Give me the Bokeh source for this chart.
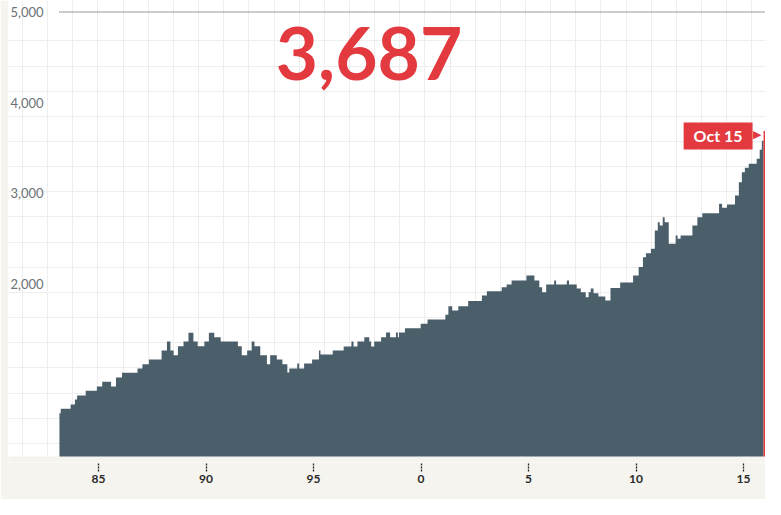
from bokeh.plotting import figure
from bokeh.models import Range1d, Grid, FixedTicker, Label
from bokeh.core.properties import value
from bokeh.embed import file_html
from bokeh.resources import INLINE

# ---- data ----
starts = [1983.18, 1983.24, 1983.70, 1983.90, 1984.00, 1984.40, 1984.92, 1985.17, 1985.58, 1985.81,
          1986.09, 1986.81, 1987.04, 1987.34, 1987.93, 1988.18, 1988.34, 1988.49, 1988.69, 1988.95,
          1989.18, 1989.41, 1989.61, 1989.92, 1990.13, 1990.38, 1990.68, 1991.48, 1991.66, 1991.91,
          1992.12, 1992.25, 1992.52, 1992.83, 1992.98, 1993.29, 1993.55, 1993.78, 1993.87, 1994.24,
          1994.33, 1994.56, 1994.93, 1995.25, 1995.32, 1995.89, 1996.40, 1996.76, 1996.86, 1997.04,
          1997.36, 1997.59, 1997.68, 1997.82, 1998.14, 1998.37, 1998.56, 1998.83, 1998.92, 1998.97,
          1999.25, 1999.98, 2000.30, 2001.13, 2001.27, 2001.45, 2001.73, 2002.19, 2002.83, 2003.06,
          2003.75, 2003.98, 2004.21, 2004.90, 2005.27, 2005.50, 2005.63, 2005.82, 2006.19, 2006.28,
          2006.78, 2006.88, 2007.24, 2007.43, 2007.66, 2007.79, 2007.89, 2008.02, 2008.25, 2008.57,
          2008.81, 2009.26, 2009.86, 2010.12, 2010.32, 2010.46, 2010.69, 2010.87, 2011.01, 2011.10,
          2011.24, 2011.33, 2011.52, 2011.84, 2011.93, 2012.07, 2012.62, 2012.85, 2013.08, 2013.86,
          2014.00, 2014.23, 2014.60, 2014.78, 2014.92, 2015.06, 2015.24, 2015.61, 2015.75, 2015.85,
          2015.93]
values = [572, 620, 668, 723, 767, 819, 866, 918, 866, 966,
          1018, 1065, 1113, 1164, 1264, 1363, 1264, 1212, 1311, 1363,
          1459, 1363, 1311, 1363, 1459, 1411, 1363, 1311, 1212, 1264,
          1363, 1311, 1212, 1113, 1212, 1164, 1113, 1021, 1065, 1120,
          1065, 1120, 1164, 1264, 1220, 1264, 1308, 1363, 1308, 1363,
          1411, 1363, 1308, 1363, 1411, 1462, 1411, 1462, 1411, 1462,
          1510, 1558, 1606, 1658, 1753, 1705, 1753, 1810, 1871, 1918,
          1962, 1992, 2036, 2092, 2036, 1962, 1907, 1992, 2036, 1992,
          2036, 1992, 1948, 1907, 1852, 1907, 1948, 1896, 1860, 1816,
          1954, 2014, 2092, 2185, 2294, 2338, 2386, 2588, 2680, 2643,
          2735, 2680, 2442, 2533, 2497, 2533, 2643, 2735, 2779, 2883,
          2839, 2875, 2975, 3121, 3232, 3280, 3325, 3380, 3480, 3580,
          3687]
last_end = 2016.0
last_label = "Oct 15"

ytick_values = [2000, 3000, 4000, 5000]
ytick_labels = ["2,000", "3,000", "4,000", "5,000"]
xtick_years = [1985, 1990, 1995, 2000, 2005, 2010, 2015]
xtick_labels = ["85", "90", "95", "0", "5", "10", "15"]

# ---- styles ----
SLATE = "#4b5f6b"
RED = "#e23a3f"
BEIGE = "#f5f4ef"
GRID = "#eeeeee"
FONT = "Lato"

W, H = 765, 499
LEFT, BOTTOM = 8, 37
FRAME_H = H - BOTTOM          # frame runs 6px below the chart floor
FLOOR = FRAME_H - 6           # pixel row where the white panel ends
Y0, Y1 = 27.6, 5127           # visible value range of the frame
FLOOR_VALUE = Y0 + (Y1 - Y0) * 6 / FRAME_H   # value shown at the chart floor

p = figure(width=W, height=H, output_backend="svg", toolbar_location=None,
           x_range=Range1d(1980.81, 2016.02), y_range=Range1d(Y0, Y1),
           y_axis_location=None, min_border_left=LEFT, min_border_right=0,
           min_border_top=0, min_border_bottom=BOTTOM)
p.background_fill_color = "white"
p.border_fill_color = BEIGE
p.outline_line_color = None
p.grid.visible = False

# pixel-space ranges for decoration
p.extra_x_ranges = {"px": Range1d(LEFT, W)}
p.extra_y_ranges = {"px": Range1d(FRAME_H, 0)}

gx = [22 + 25.15 * k for k in range(31)]
gy = [40.4 + 25.15 * k for k in range(17)]
p.add_layout(Grid(dimension=0, ticker=FixedTicker(ticks=gx), x_range_name="px",
                  grid_line_color=GRID, grid_line_width=1))
p.add_layout(Grid(dimension=1, ticker=FixedTicker(ticks=gy), y_range_name="px",
                  grid_line_color=GRID, grid_line_width=1))

# beige strip under the chart floor
p.quad(left=0, right=W + 10, bottom=FRAME_H + 10, top=FLOOR,
       x_range_name="px", y_range_name="px", fill_color=BEIGE, line_color=None)

# bars: one seamless stepped area + the latest (red) bar, standing on the floor
p.varea_step(x=starts, y1=FLOOR_VALUE, y2=values[:-1] + [values[-2]],
             step_mode="after", fill_color=SLATE)
p.quad(left=starts[-1], right=last_end, top=values[-1], bottom=FLOOR_VALUE,
       fill_color=RED, line_color=None)

# top dotted reference line
p.segment(x0=starts[0], x1=2017, y0=ytick_values[-1], y1=ytick_values[-1],
          line_color="#333333", line_width=1, line_dash="1 1")

# y tick labels inside plot
p.text(x=10, y=ytick_values, text=ytick_labels, x_range_name="px",
       text_font=value(FONT), text_font_size="13px", text_color="#6b7276",
       text_align="left", text_baseline="middle")

# x axis with dotted ticks
ax = p.xaxis[0]
ax.ticker = FixedTicker(ticks=xtick_years)
ax.major_label_overrides = {y: l for y, l in zip(xtick_years, xtick_labels)}
ax.axis_line_color = None
ax.minor_tick_line_color = None
ax.major_tick_line_color = "#222222"
ax.major_tick_line_width = 1.3
ax.major_tick_line_dash = "2 1"
ax.major_tick_in = 0
ax.major_tick_out = 9
ax.major_label_standoff = 3
ax.major_label_text_font = FONT
ax.major_label_text_font_style = "bold"
ax.major_label_text_font_size = "12px"
ax.major_label_text_color = "#2a2a2a"

# big headline number = last value
p.add_layout(Label(x=368.5, y=53, x_range_name="px", y_range_name="px",
                   text=f"{values[-1]:,}", text_font=FONT, text_font_style="bold",
                   text_font_size="73px", text_color=RED,
                   text_align="center", text_baseline="middle"))

# date tag by last bar
p.add_layout(Label(x=starts[-1], y=values[-1], x_offset=-11, y_offset=-5,
                   text=last_label, text_font=FONT, text_font_style="bold",
                   text_font_size="16px", text_color="white",
                   text_align="right", text_baseline="middle",
                   background_fill_color=RED,
                   padding=dict(left=10, right=10, top=4, bottom=4)))
p.add_layout(Label(x=starts[-1], y=values[-1], x_offset=-2, y_offset=-4,
                   text="\u25b6", text_font="DejaVu Sans", text_font_size="11px",
                   text_color=RED, text_align="right", text_baseline="middle"))

open("out.html", "w").write(file_html(p, INLINE))
